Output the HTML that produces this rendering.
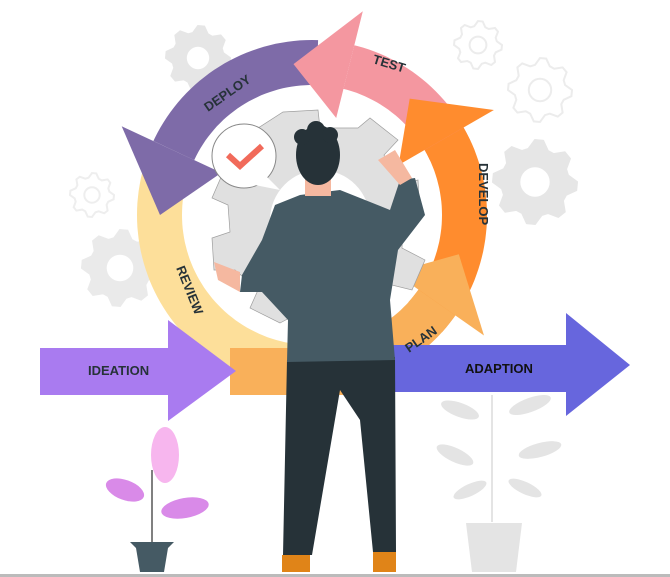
<!DOCTYPE html>
<html><head><meta charset="utf-8"><style>
html,body{margin:0;padding:0;background:#fff;width:670px;height:577px;overflow:hidden}
svg{display:block}
text{font-family:"Liberation Sans",sans-serif;font-weight:bold;font-size:13px;fill:#263238}
</style></head><body>
<svg id="s" width="670" height="577" viewBox="0 0 670 577" xmlns="http://www.w3.org/2000/svg">
<g id="bg"></g>
<g id="ring"></g>
<!-- ideation arrow -->
<rect x="230" y="348" width="150" height="47" fill="#F9B05A"/>
<polygon points="40,348 168,348 168,320 236,371 168,421 168,395 40,395" fill="#A97BF0"/>
<text x="88" y="375" font-size="12.5">IDEATION</text>
<!-- adaption arrow -->
<polygon points="390,345 566,345 566,313 630,365 566,416 566,392 390,392" fill="#6766DD"/>
<text x="465" y="373" font-size="12.5" style="fill:#111">ADAPTION</text>
<g id="labels">
<text transform="translate(372,63) rotate(17)">TEST</text>
<text transform="translate(208,112) rotate(-35)">DEPLOY</text>
<text transform="translate(479,163) rotate(90)">DEVELOP</text>
<text transform="translate(176,268) rotate(68)">REVIEW</text>
<text transform="translate(409,353) rotate(-35)">PLAN</text>
</g>
<!-- central gear -->
<g fill="#E0E0E0" stroke="#9e9e9e" stroke-width="0.7">
<polygon points="283,112 318,110 320,128 358,128 370,118 398,140 384,155 400,185 418,180 420,215 403,220 402,248 425,260 412,290 392,285 370,310 372,330 340,335 330,320 295,315 280,323 250,308 258,290 235,270 214,270 212,238 230,232 228,205 212,198 225,168 242,172 260,148 255,130"/>
</g>
<circle cx="320" cy="220" r="50" fill="#fff"/>
<!-- speech bubble -->
<circle cx="244" cy="156" r="32" fill="#fff" stroke="#888" stroke-width="1"/>
<polygon points="255,185 280,190 262,172" fill="#fff"/>
<polyline points="228,155 240,166 262,146" fill="none" stroke="#F16A5A" stroke-width="6"/>
<!-- person -->
<g>
<polygon points="287,360 395,357 396,552 373,552 360,420 340,390 312,555 283,555" fill="#263238"/>
<polygon points="282,555 310,555 310,572 282,572" fill="#E08418"/>
<polygon points="373,552 396,552 396,572 373,572" fill="#E08418"/>
<polygon points="300,195 340,190 390,210 400,180 415,178 425,215 398,250 390,300 395,360 287,362 288,320 262,292 240,292 242,275 262,240 275,205" fill="#455A64"/>
<polygon points="378,160 395,150 412,178 400,185" fill="#F5B8A0"/>
<polygon points="214,262 240,272 240,292 218,280" fill="#F5B8A0"/>
<rect x="305" y="172" width="26" height="24" fill="#F5B8A0"/>
<ellipse cx="318" cy="155" rx="22" ry="30" fill="#263238"/>
<circle cx="302" cy="137" r="8" fill="#263238"/><circle cx="316" cy="130" r="9" fill="#263238"/><circle cx="330" cy="135" r="8" fill="#263238"/>
</g>
<!-- plants -->
<g fill="#E4E4E4">
<path d="M466,523 L522,523 L516,572 L472,572Z"/>
<path d="M492,522 L492,395" stroke="#E4E4E4" stroke-width="2"/>
<ellipse cx="460" cy="410" rx="20" ry="7" transform="rotate(20 460 410)"/>
<ellipse cx="530" cy="405" rx="22" ry="7" transform="rotate(-20 530 405)"/>
<ellipse cx="455" cy="455" rx="20" ry="7" transform="rotate(25 455 455)"/>
<ellipse cx="540" cy="450" rx="22" ry="7" transform="rotate(-15 540 450)"/>
<ellipse cx="470" cy="490" rx="18" ry="6" transform="rotate(-25 470 490)"/>
<ellipse cx="525" cy="488" rx="18" ry="6" transform="rotate(25 525 488)"/>
</g>
<g>
<path d="M152,545 L152,470" stroke="#555" stroke-width="1.5"/>
<ellipse cx="165" cy="455" rx="14" ry="28" fill="#F7B6EE"/>
<ellipse cx="125" cy="490" rx="20" ry="10" fill="#D98AE8" transform="rotate(20 125 490)"/>
<ellipse cx="185" cy="508" rx="24" ry="10" fill="#D98AE8" transform="rotate(-10 185 508)"/>
<path d="M130,542 L174,542 L168,548 L164,572 L140,572 L136,548Z" fill="#455A64"/>
</g>
<rect x="0" y="574" width="670" height="3" fill="#bbb"/>
</svg>
<script>
var NS="http://www.w3.org/2000/svg",cx=312,cy=215,R1=130,R2=175,M=152;
function P(r,a){a=a*Math.PI/180;return (cx+r*Math.cos(a)).toFixed(1)+","+(cy+r*Math.sin(a)).toFixed(1);}
function add(g,tag,at){var e=document.createElementNS(NS,tag);for(var k in at)e.setAttribute(k,at[k]);document.getElementById(g).appendChild(e);return e;}
function ring(a0,a1,col){var pts=[];for(var a=a0;a>=a1;a-=2)pts.push(P(R2,a));pts.push(P(R2,a1));for(var a=a1;a<=a0;a+=2)pts.push(P(R1,a));pts.push(P(R1,a0));add("ring","polygon",{points:pts.join(" "),fill:col});}
function head(b,t,col){add("ring","polygon",{points:[P(100,b),P(210,b),P(M,t)].join(" "),fill:col});}
function gear(x,y,r,col,fill){var pts=[];for(var i=0;i<32;i++){var a=i/32*2*Math.PI,rr=(i%4<2)?r:r*0.8;pts.push((x+rr*Math.cos(a)).toFixed(1)+","+(y+rr*Math.sin(a)).toFixed(1));}
add("bg","polygon",{points:pts.join(" "),fill:fill?col:"none",stroke:col,"stroke-width":2});add("bg","circle",{cx:x,cy:y,r:r*0.35,fill:"#fff",stroke:fill?"none":col,"stroke-width":2});}
gear(198,58,32,"#E6E6E6",1);gear(540,90,32,"#ECECEC",0);gear(478,45,24,"#ECECEC",0);gear(535,182,42,"#E6E6E6",1);gear(92,195,22,"#EEEEEE",0);gear(120,268,38,"#EAEAEA",1);
ring(200,88,"#FDDF9A");
ring(-88,-155,"#7E6BA8");head(-155,-180,"#7E6BA8");
ring(-25,-76,"#F497A0");head(-76,-97,"#F497A0");
ring(42,-30,"#FF8C2E");head(-30,-50,"#FF8C2E");
ring(92,35,"#F9B05A");head(35,15,"#F9B05A");
</script>
</body></html>
